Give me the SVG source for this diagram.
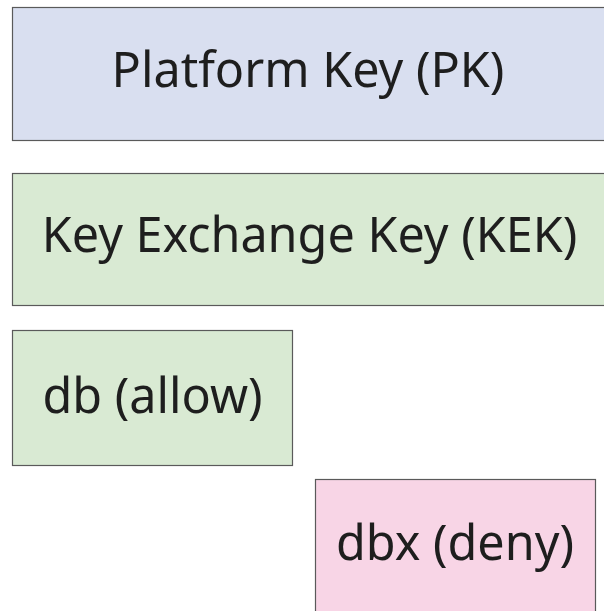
<svg xmlns="http://www.w3.org/2000/svg" width="604" height="611" viewBox="0 0 604 611">
<style>
.box{stroke:#5a5a5a;stroke-width:1.2}
.lbl{font-family:"Noto Sans","Open Sans",sans-serif;font-size:48.5px;fill:#1e1e1e;text-anchor:middle}
</style>
<rect width="604" height="611" fill="#ffffff"/>
<g id="pk">
<rect class="box" x="12.5" y="7.5" width="600" height="133" fill="#d9dff0"/>
<text class="lbl" x="308" y="87">Platform Key (PK)</text>
</g>
<g id="kek">
<rect class="box" x="12.5" y="173.5" width="600" height="132" fill="#d9ead3"/>
<text class="lbl" x="309.5" y="252">Key Exchange Key (KEK)</text>
</g>
<g id="db">
<rect class="box" x="12.5" y="330.5" width="280" height="135" fill="#d9ead3"/>
<text class="lbl" x="152.5" y="413">db (allow)</text>
</g>
<g id="dbx">
<rect class="box" x="315.5" y="479.5" width="280" height="140" fill="#f8d5e6"/>
<text class="lbl" x="455" y="560">dbx (deny)</text>
</g>
<g id="connectors"></g>
</svg>
